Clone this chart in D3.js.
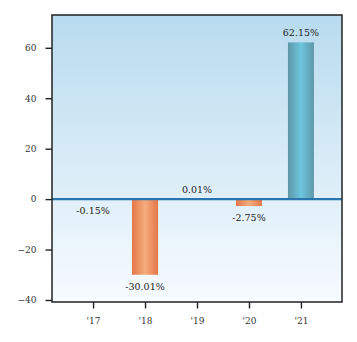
<!DOCTYPE html>
<html><head><meta charset="utf-8">
<script src="https://cdn.jsdelivr.net/npm/d3@7"></script>
<style>body{margin:0;background:#fff}svg{display:block}text{font-family:"DejaVu Serif",serif}</style>
</head><body>
<script>
const categories = ["'17","'18","'19","'20","'21"];
const values = [-0.15, -30.01, 0.01, -2.75, 62.15];
const labels = ["-0.15%","-30.01%","0.01%","-2.75%","62.15%"];
const yTicks = [-40,-20,0,20,40,60];

const W=357,H=342, m={l:52,t:15,r:15,b:40};
const svg=d3.select("body").append("svg").attr("width",W).attr("height",H);
const x=d3.scaleLinear().domain([-0.79,4.79]).range([m.l,W-m.r]);
const y=d3.scaleLinear().domain([-40.8,73]).range([H-m.b,m.t]);
const defs=svg.append("defs");
const bg=defs.append("linearGradient").attr("id","bg").attr("x1",0).attr("y1",0).attr("x2",0).attr("y2",1);
bg.append("stop").attr("offset","0%").attr("stop-color","#b8dbef");
bg.append("stop").attr("offset","100%").attr("stop-color","#f7fbff");
function hg(id,edge,mid){const g=defs.append("linearGradient").attr("id",id).attr("x1",0).attr("x2",1).attr("y1",0).attr("y2",0);
 g.append("stop").attr("offset","0%").attr("stop-color",edge);
 g.append("stop").attr("offset","50%").attr("stop-color",mid);
 g.append("stop").attr("offset","100%").attr("stop-color",edge);}
hg("neg","#e4764a","#f5ad7b");
hg("pos","#5e97a8","#6cc5df");

svg.append("rect").attr("x",m.l).attr("y",m.t).attr("width",W-m.l-m.r).attr("height",H-m.t-m.b).attr("fill","url(#bg)");
const bw=x(0.25)-x(0);
svg.selectAll("rect.bar").data(values).join("rect").attr("class","bar")
 .attr("x",(d,i)=>x(i)-bw).attr("width",2*bw)
 .attr("y",d=>y(Math.max(0,d))).attr("height",d=>Math.abs(y(d)-y(0)))
 .attr("fill",d=>d<0?"url(#neg)":"url(#pos)");
svg.append("line").attr("x1",m.l).attr("x2",W-m.r).attr("y1",y(0)).attr("y2",y(0)).attr("stroke","#2a74b0").attr("stroke-width",2.2);
svg.selectAll("text.lab").data(values).join("text").attr("class","lab")
 .attr("x",(d,i)=>x(i)).attr("y",d=>d<0?y(d)+15:y(d)-6)
 .attr("text-anchor","middle").attr("font-size",9.5).attr("fill","#222").text((d,i)=>labels[i]);

const yAxis=svg.append("g").attr("transform",`translate(${m.l},0)`).call(d3.axisLeft(y).tickValues(yTicks).tickSize(6.5).tickPadding(9).tickFormat(d=>d<0?"\u2212"+Math.abs(d):d));
const xAxis=svg.append("g").attr("transform",`translate(0,${H-m.b})`).call(d3.axisBottom(x).tickValues(d3.range(5)).tickSize(6.5).tickPadding(9).tickFormat(i=>categories[i]));
[yAxis,xAxis].forEach(a=>{a.select(".domain").remove();a.selectAll("line").attr("stroke","#222").attr("stroke-width",1.4);a.selectAll("text").attr("font-size",9).attr("fill","#333").attr("font-family","DejaVu Serif");});
svg.append("rect").attr("x",m.l).attr("y",m.t).attr("width",W-m.l-m.r).attr("height",H-m.t-m.b).attr("fill","none").attr("stroke","#222").attr("stroke-width",1.5);
</script></body></html>
